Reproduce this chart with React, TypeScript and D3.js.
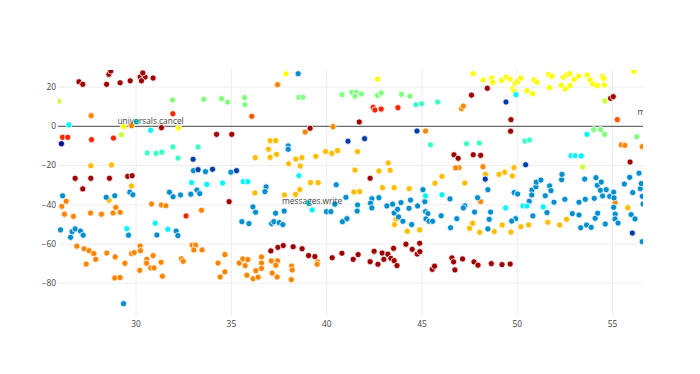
import * as d3 from "d3";
import React from "react";

// colour value of each group on the Jet scale
const darkRedLevel = 0.97;
const redLevel = 0.84;
const orangeRedLevel = 0.79;
const orangeLevel = 0.745;
const amberLevel = 0.69;
const yellowLevel = 0.625;
const yellowGreenLevel = 0.57;
const greenLevel = 0.5;
const tealLevel = 0.43;
const cyanLevel = 0.36;
const blueLevel = 0.23;
const darkBlueLevel = 0.125;
const navyLevel = 0.02;

const darkRed: [number, number][] = [
	[27.0, 22.7], [27.2, 21.4], [28.45, 21.4], [28.57, 26.5], [28.67, 28.2], [29.16, 22.2], [29.69, 23.2],
	[30.21, 25.1], [30.47, 25.1], [30.28, 23.2], [30.89, 24.6], [30.35, 27.2], [31.33, -0.7], [34.22, -4.1],
	[35.02, -4.1], [26.8, -26.5], [27.62, -26.5], [28.6, -26.5], [29.56, -25.5], [29.79, -25.2], [27.2, -31.9],
	[34.88, -38.4], [39.13, -1.0], [41.71, 2.2], [46.68, -14.5], [46.9, -16.3], [42.28, -26.5],
	[37.07, -63.5], [37.44, -61.7], [37.72, -60.8], [38.24, -61.4], [38.71, -62.4], [39.05, -65.9], [39.38, -66.4],
	[40.29, -67.0], [40.8, -64.7], [41.39, -67.8], [41.65, -65.4], [42.28, -69.0], [42.49, -63.7], [42.69, -70.3],
	[42.91, -64.6], [43.0, -67.8], [43.21, -65.2], [43.37, -67.3], [43.51, -62.2], [43.54, -68.5], [43.69, -71.0],
	[44.16, -60.1], [44.49, -62.7], [44.75, -65.1], [44.89, -63.9], [44.88, -59.6], [45.54, -72.9], [45.66, -71.3],
	[46.57, -67.1], [46.66, -69.1], [46.73, -73.2], [47.13, -67.6], [47.73, -69.1], [47.94, -70.8], [48.64, -70.0],
	[49.2, -70.5], [49.63, -70.2],
	[47.6, 15.9], [48.43, 19.4], [54.9, 14.3], [55.04, 15.1], [49.67, 3.4], [49.65, -2.5], [47.69, -14.5],
	[48.08, -14.8], [55.92, -18.2],
];

const red: [number, number][] = [
	[26.14, -5.6], [26.41, -5.6], [27.66, -6.8], [28.81, -6.0], [31.93, 6.4], [32.62, -45.7], [42.44, 9.7],
	[42.53, 8.3], [42.86, 8.8], [43.74, 9.5],
];

const orangeRed: [number, number][] = [[36.07, 5.1], [55.25, 3.4]];

const orange: [number, number][] = [
	[47.08, 9.0], [47.17, 10.3], [27.64, 5.4], [29.76, 0.3], [37.42, 21.2], [40.33, -0.2], [38.87, -2.9],
	[45.19, -2.4], [55.46, -9.5], [55.65, -9.7], [56.56, -10.4], [46.94, -21.1], [46.77, -21.2], [48.2, -20.6],
	[48.08, -38.4], [55.13, -38.9],
	[26.1, -40.8], [26.33, -38.2], [26.24, -44.8], [26.71, -45.9], [27.61, -44.2], [28.18, -44.8], [28.79, -44.2],
	[28.93, -41.3], [29.16, -43.8], [30.81, -39.6], [31.33, -40.1], [31.56, -40.5], [33.43, -42.8],
	[26.89, -61.1], [27.27, -62.4], [27.38, -70.2], [27.53, -63.4], [27.78, -64.9], [27.88, -67.8], [28.46, -64.6],
	[28.9, -66.6], [29.41, -69.8], [29.76, -64.9], [29.9, -64.4], [28.88, -77.3], [29.16, -77.1], [30.21, -61.0],
	[30.23, -63.4], [30.19, -73.4], [30.56, -67.8], [30.55, -69.8], [30.77, -72.2], [30.89, -65.9], [30.94, -72.2],
	[31.31, -69.3], [31.38, -76.4], [32.38, -67.6], [32.47, -68.8], [32.94, -60.6], [33.12, -60.6], [33.03, -63.0],
	[33.46, -63.0], [34.3, -69.7], [34.66, -65.4], [34.41, -76.8], [34.66, -74.2], [35.41, -69.7], [35.6, -67.6],
	[35.72, -71.0], [35.86, -68.0], [35.81, -75.9], [36.14, -77.7], [36.4, -76.9], [36.28, -73.6], [36.58, -66.6],
	[36.58, -69.7], [36.58, -72.4], [37.09, -68.6], [37.42, -68.6], [37.14, -74.8], [37.4, -76.8], [37.33, -70.8],
	[38.16, -71.2], [38.19, -73.2], [38.14, -78.2], [39.52, -69.1], [39.5, -70.3],
];

const amber: [number, number][] = [
	[28.58, -37.7], [27.62, -20.1], [28.71, -19.7], [29.76, -30.4], [36.23, -34.0], [37.03, -7.3], [37.32, -7.3],
	[36.95, -11.7], [37.37, -14.3], [37.03, -15.8], [36.25, -16.0], [38.0, -19.1], [38.38, -16.7], [38.7, -16.0],
	[38.61, -20.2], [39.43, -15.3], [39.94, -12.9], [40.27, -13.8], [40.57, -12.4], [41.62, -12.9], [43.23, -18.7],
	[41.48, -22.3], [42.74, -22.8], [43.33, -22.4], [46.05, -25.5], [45.68, -29.0], [39.15, -28.7], [39.55, -28.7],
	[38.59, -32.3], [38.37, -34.7], [37.79, -35.0], [41.43, -33.5], [41.73, -33.3], [42.93, -31.3], [43.54, -31.3],
	[44.33, -31.8], [43.65, -47.2], [43.56, -50.1], [44.23, -53.5], [44.88, -52.8], [47.25, -28.9], [48.34, -24.5],
	[49.04, -24.5], [49.34, -23.4], [49.74, -25.3], [49.83, -21.1], [52.31, -24.3], [47.66, -49.4], [47.5, -52.0],
	[48.03, -54.0], [48.79, -53.7], [49.21, -50.3], [49.67, -53.9], [50.19, -51.2], [50.6, -50.3], [51.6, -48.9],
	[52.23, -50.3], [52.59, -47.4], [55.8, -41.5],
];

const yellow: [number, number][] = [
	[37.86, 26.7], [42.67, 24.1], [47.69, 26.8], [48.22, 23.6], [48.66, 24.6], [48.71, 22.4], [49.18, 23.4],
	[49.41, 25.1], [49.62, 24.1], [49.88, 21.9], [50.02, 22.9], [50.19, 24.6], [49.76, 19.2], [49.83, 18.0],
	[50.51, 18.1], [50.81, 16.6], [50.88, 23.7], [51.03, 22.4], [51.7, 19.7], [51.65, 26.5], [51.82, 25.5],
	[52.31, 20.9], [52.41, 25.0], [52.59, 26.0], [52.75, 26.8], [52.77, 20.7], [52.52, 19.0], [52.99, 23.9],
	[53.22, 25.6], [53.67, 26.1], [53.83, 23.6], [53.96, 21.6], [54.2, 20.7], [54.46, 25.5], [54.54, 24.5],
	[54.57, 21.0], [56.13, 28.0], [32.23, -0.9], [29.34, -0.2],
];

const yellowGreen: [number, number][] = [[25.93, 12.7], [29.23, -4.3], [54.6, 12.9], [53.43, -20.7]];

const green: [number, number][] = [
	[31.91, 13.4], [33.55, 13.8], [34.48, 14.1], [34.8, 12.4], [35.69, 14.6], [35.71, 11.0], [38.54, 14.8],
	[38.75, 14.8], [40.8, 16.1], [41.32, 17.3], [41.55, 17.3], [41.48, 15.3], [41.83, 16.5], [42.67, 15.8],
	[42.86, 17.0], [43.93, 16.3], [44.37, 15.4], [54.01, -1.7], [54.38, -1.7], [54.59, -4.1], [56.27, -5.3],
];

const teal: [number, number][] = [
	[44.68, 11.0], [44.98, 11.5], [45.82, 12.4], [45.45, -9.4], [47.34, -8.9], [48.01, -8.5], [50.4, -7.5],
	[50.65, -7.0], [31.93, -10.5], [33.25, -10.5], [32.2, -16.2], [30.58, -13.6], [31.05, -13.8], [31.35, -13.2],
];

const cyan: [number, number][] = [
	[26.47, 0.7], [30.02, 2.3], [32.91, -28.7], [33.71, -29.6], [34.54, -28.9], [35.62, -28.2], [35.86, -28.2],
	[29.51, -52.2], [31.0, -49.4], [31.66, -52.5], [38.54, -25.2], [39.03, -39.2], [45.19, -35.5], [46.05, -34.9],
	[49.93, 16.1], [53.66, -4.1], [52.82, -15.0], [53.03, -15.0], [53.36, -15.1], [49.39, -41.6], [50.3, -40.6],
	[50.51, -40.6], [51.36, -41.1],
];

const blue: [number, number][] = [
	[26.14, -35.4], [28.43, -36.2], [28.88, -35.4], [29.67, -33.6], [29.83, -34.9], [31.75, -33.6], [31.94, -35.9],
	[32.33, -35.0], [32.87, -34.6], [33.19, -32.5], [33.34, -34.3], [33.01, -22.6], [33.64, -23.1], [34.97, -23.4],
	[26.03, -52.8], [26.56, -56.6], [26.64, -53.7], [26.8, -52.3], [27.08, -53.4], [27.22, -55.5], [29.6, -55.5],
	[31.09, -55.4], [32.1, -53.4], [32.19, -55.7], [35.55, -48.6], [35.92, -49.6], [36.13, -41.1], [36.27, -43.8],
	[29.34, -90.4], [38.5, 26.8], [37.98, -10.0], [37.98, -11.7], [40.5, -29.8], [36.82, -30.9], [36.76, -33.3],
	[41.01, -36.2], [42.37, -36.9], [42.74, -36.4], [45.05, -32.3], [46.47, -37.0],
	[37.32, -44.3], [37.77, -43.2], [37.11, -49.6], [37.23, -48.6], [37.51, -49.1], [37.7, -50.1], [39.99, -43.5],
	[40.22, -43.5], [40.43, -39.7], [40.83, -48.6], [41.06, -47.1], [41.62, -40.1], [41.6, -43.2], [42.3, -39.2],
	[42.37, -41.6], [43.16, -40.6], [43.46, -39.7], [43.54, -44.2], [43.72, -42.3], [43.77, -46.2], [43.9, -38.9],
	[44.0, -48.4], [44.32, -41.8], [44.4, -37.6], [44.46, -50.1], [44.77, -40.6], [45.15, -38.4], [45.19, -43.5],
	[45.31, -44.5], [45.21, -47.2], [45.37, -48.4], [45.56, -48.4], [46.01, -45.6], [46.5, -51.7], [46.83, -47.1],
	[48.46, -32.3], [47.92, -36.4], [49.84, -33.8], [50.02, -34.5], [50.77, -32.5], [50.98, -30.8], [51.0, -28.5],
	[51.24, -27.4], [50.76, -35.0], [51.47, -35.4], [51.7, -30.4], [51.77, -32.8], [52.33, -27.2], [52.35, -24.5],
	[53.54, -26.9], [54.13, -26.2], [54.2, -30.1], [54.41, -28.4], [54.36, -32.6], [54.67, -32.3], [54.85, -35.7],
	[55.06, -33.6], [55.08, -36.5], [55.62, -29.4], [55.9, -26.0], [56.06, -33.8], [56.39, -23.9], [56.46, -31.8],
	[56.56, -35.7], [52.5, -37.2], [53.57, -37.2], [54.04, -36.7], [54.48, -35.5],
	[47.25, -40.5], [47.17, -41.6], [47.76, -43.7], [48.6, -43.7], [48.53, -47.4], [48.46, -52.3], [50.63, -38.2],
	[51.93, -38.7], [53.24, -38.7], [51.56, -44.0], [50.82, -45.7], [49.92, -47.1], [49.71, -48.3], [52.89, -44.5],
	[53.24, -45.2], [53.33, -51.7], [53.64, -50.3], [53.88, -51.5], [54.09, -46.9], [54.22, -44.3], [54.62, -49.8],
	[55.06, -41.3], [55.14, -44.8], [55.13, -47.2], [55.29, -49.3], [56.51, -29.2], [56.6, -39.6], [55.98, -45.0],
	[56.18, -47.2], [56.56, -58.8],
];

const darkBlue: [number, number][] = [
	[32.99, -16.8], [33.25, -22.1], [34.01, -21.9], [35.27, -22.6], [44.74, -2.4], [41.12, -7.6], [41.99, -6.3],
	[49.41, 12.4], [50.44, -19.6], [48.32, -26.9], [56.04, -54.4],
];

const navy: [number, number][] = [[26.08, -8.9]];

// labelled points
const labelNames = ["universals.cancel", "messages.write", "messages.read"];
const labelPoints: [number, number][] = [[30.76, -2.0], [39.24, -42.6], [57.84, 2.7]];

const groups: { pts: [number, number][]; level: number }[] = [
	{ pts: orange, level: orangeLevel },
	{ pts: amber, level: amberLevel },
	{ pts: blue, level: blueLevel },
	{ pts: darkRed, level: darkRedLevel },
	{ pts: yellow, level: yellowLevel },
	{ pts: green, level: greenLevel },
	{ pts: teal, level: tealLevel },
	{ pts: cyan, level: cyanLevel },
	{ pts: red, level: redLevel },
	{ pts: orangeRed, level: orangeRedLevel },
	{ pts: yellowGreen, level: yellowGreenLevel },
	{ pts: darkBlue, level: darkBlueLevel },
	{ pts: navy, level: navyLevel },
	{ pts: labelPoints, level: cyanLevel },
];

const jet = d3
	.scaleLinear<string>()
	.domain([0, 0.125, 0.375, 0.625, 0.875, 1])
	.range(["rgb(0,0,131)", "rgb(0,60,170)", "rgb(5,255,255)", "rgb(255,255,0)", "rgb(250,0,0)", "rgb(128,0,0)"])
	.interpolate(d3.interpolateRgb);

const App = (): JSX.Element => {
	const width = 700,
		height = 374;
	const margin = { top: 70, right: 57, bottom: 57, left: 58 };
	const x = d3.scaleLinear().domain([25.9, 56.6]).range([margin.left, width - margin.right]);
	const y = d3.scaleLinear().domain([28.7, -97.2]).range([margin.top, height - margin.bottom]);
	const font = "'Open Sans', verdana, arial, sans-serif";

	return (
		<svg width={width} height={height} style={{ position: "absolute", left: 0, top: 0, background: "#fff" }}>
			<defs>
				<clipPath id="plotclip">
					<rect x={x.range()[0]} y={y.range()[0]} width={x.range()[1] - x.range()[0]} height={y.range()[1] - y.range()[0]} />
				</clipPath>
			</defs>
			{/* grid */}
			{x.ticks(6).map((t) => (
				<line key={"gx" + t} x1={x(t)} x2={x(t)} y1={y.range()[0]} y2={y.range()[1]} stroke="#eee" strokeWidth={1} />
			))}
			{y.ticks(6).filter((t) => t !== 0).map((t) => (
				<line key={"gy" + t} x1={x.range()[0]} x2={x.range()[1]} y1={y(t)} y2={y(t)} stroke="#eee" strokeWidth={1} />
			))}
			<line x1={x.range()[0]} x2={x.range()[1]} y1={y(0)} y2={y(0)} stroke="#444" strokeWidth={1} />
			{/* tick labels */}
			{x.ticks(6).map((t) => (
				<text key={"tx" + t} x={x(t)} y={327} textAnchor="middle" fontFamily={font} fontSize={8.4} fill="#444">
					{t}
				</text>
			))}
			{y.ticks(6).map((t) => (
				<text key={"ty" + t} x={56} y={y(t)} dy="0.35em" textAnchor="end" fontFamily={font} fontSize={8.4} fill="#444">
					{t < 0 ? "\u2212" + Math.abs(t) : t}
				</text>
			))}
			<g clipPath="url(#plotclip)">
				{groups.map((g, gi) =>
					g.pts.map((p, i) => (
						<circle key={gi + "-" + i} cx={x(p[0])} cy={y(p[1])} r={3.1} fill={jet(g.level)} stroke="#fff" strokeWidth={0.8} />
					))
				)}
				{labelPoints.map((p, i) => (
					<text key={"lb" + i} x={x(p[0])} y={y(p[1]) - 6} textAnchor="middle" fontFamily={font} fontSize={8.4} fill="#444">
						{labelNames[i]}
					</text>
				))}
			</g>
		</svg>
	);
};

export default App;
